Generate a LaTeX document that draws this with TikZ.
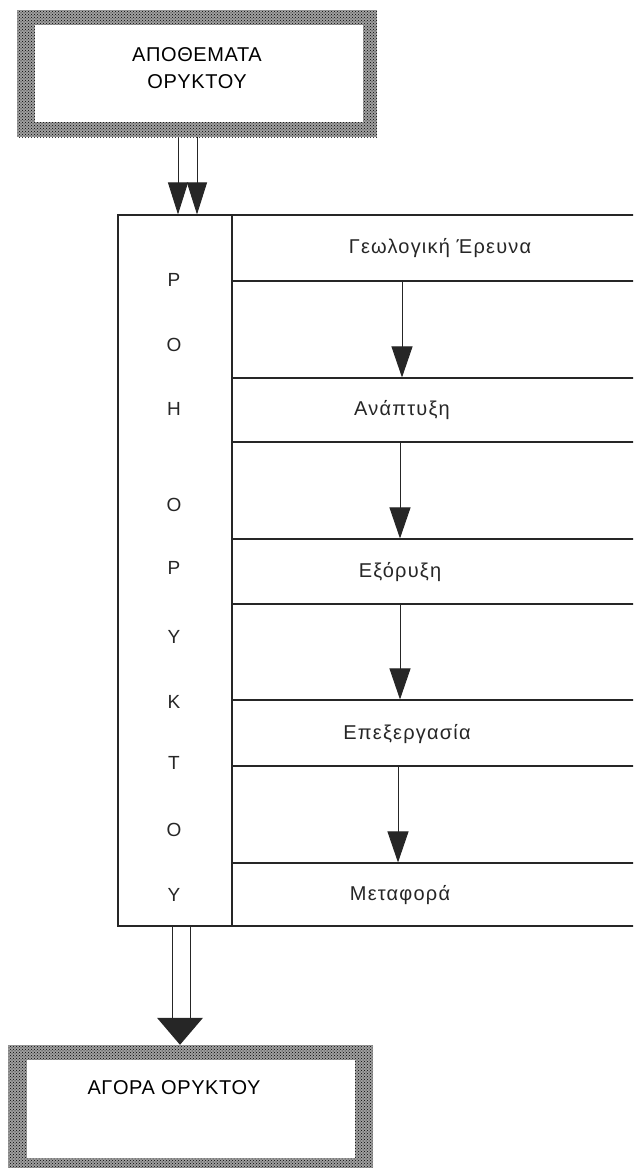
\documentclass[tikz,border=0pt]{standalone}
\usepackage{fontspec}
\setmainfont{Liberation Sans}
\usetikzlibrary{arrows.meta, patterns, positioning}

\tikzset{
    frameBox/.style={
        draw=none,
        fill=gray!75,
        postaction={pattern=crosshatch dots, pattern color=black},
        inner sep=0pt
    },
    innerBox/.style={fill=white, inner sep=0pt},
    boxText/.style={font=\fontsize{20}{27}\selectfont\addfontfeature{LetterSpace=3}, align=center, inner sep=0pt},
    % Table parts
    stageRow/.style={draw=black!85, line width=1.1pt, inner sep=0pt},
    stageText/.style={font=\fontsize{20}{22}\selectfont\addfontfeature{LetterSpace=6}, text=black!85},
    colLetter/.style={font=\fontsize{19}{20}\selectfont, text=black!85},
    % Arrows
    shaft/.style={draw=black!85, line width=0.9pt},
    stepArrow/.style={shaft, -{Triangle[length=31pt,width=21pt]}},
    dblArrow/.style={shaft, -{Triangle[length=32pt,width=20pt]}}
}

\begin{document}
\begin{tikzpicture}[x=1pt, y=-1pt]
\clip (0,0) rectangle (633,1168);

% ===== TOP: reserves =====
\node[frameBox, minimum width=360pt, minimum height=127pt] (resFrame) at (197,73.5) {};
\node[innerBox, minimum width=328pt, minimum height=97pt] (res) at (199,73.5) {};
\node[boxText] (resLabel) at (197,68.5) {ΑΠΟΘΕΜΑΤΑ\\ΟΡΥΚΤΟΥ};

% ===== MIDDLE: flow of the mineral =====
\node[stageRow, minimum width=114pt, minimum height=711pt] (col) at (175,570.5) {};

\node[stageRow, minimum width=408pt, minimum height=66pt] (geo)   at (436,248)   {};
\node[stageRow, minimum width=408pt, minimum height=64pt] (dev)   at (436,410)   {};
\node[stageRow, minimum width=408pt, minimum height=65pt] (mine)  at (436,571.5) {};
\node[stageRow, minimum width=408pt, minimum height=66pt] (proc)  at (436,733)   {};
\node[stageRow, minimum width=408pt, minimum height=63pt] (trans) at (436,894.5) {};

\node[stageText] (geoLabel)   at (440,248) {Γεωλογική Έρευνα};
\node[stageText] (devLabel)   at (402,410) {Ανάπτυξη};
\node[stageText] (mineLabel)  at (400,572) {Εξόρυξη};
\node[stageText] (procLabel)  at (407,734) {Επεξεργασία};
\node[stageText] (transLabel) at (400,895) {Μεταφορά};

% vertical title in the left column
\foreach \y/\c [count=\i] in {280/Ρ, 345/Ο, 409/Η, 505/Ο, 568/Ρ, 637/Υ, 702/Κ, 763/Τ, 830/Ο, 895/Υ}
    \node[colLetter] (let\i) at (174,\y) {\c};

\draw[stepArrow] ([xshift=-34]geo.south)  -- ([xshift=-34]dev.north);
\draw[stepArrow] ([xshift=-36]dev.south)  -- ([xshift=-36]mine.north);
\draw[stepArrow] ([xshift=-36]mine.south) -- ([xshift=-36]proc.north);
\draw[stepArrow] ([xshift=-38]proc.south) -- ([xshift=-38]trans.north);

\draw[dblArrow] ([xshift=3]col.north |- resFrame.south)  -- ([xshift=3]col.north);
\draw[dblArrow] ([xshift=22]col.north |- resFrame.south) -- ([xshift=22]col.north);

% ===== BOTTOM: market =====
\node[frameBox, minimum width=365pt, minimum height=125pt] (mktFrame) at (190.5,1107.5) {};
\node[innerBox, minimum width=328pt, minimum height=98pt] (mkt) at (191,1109) {};
\node[boxText] (mktLabel) at (174,1088) {ΑΓΟΡΑ ΟΡΥΚΤΟΥ};

\draw[shaft, shorten >=27pt] ([xshift=-3]col.south)  -- ([xshift=-3]col.south |- mktFrame.north);
\draw[shaft, shorten >=27pt] ([xshift=15]col.south) -- ([xshift=15]col.south |- mktFrame.north);
\fill[black!85] ([xshift=-10.5]mktFrame.north) -- ++(-23,-27) -- ++(46,0) -- cycle;

\end{tikzpicture}
\end{document}
